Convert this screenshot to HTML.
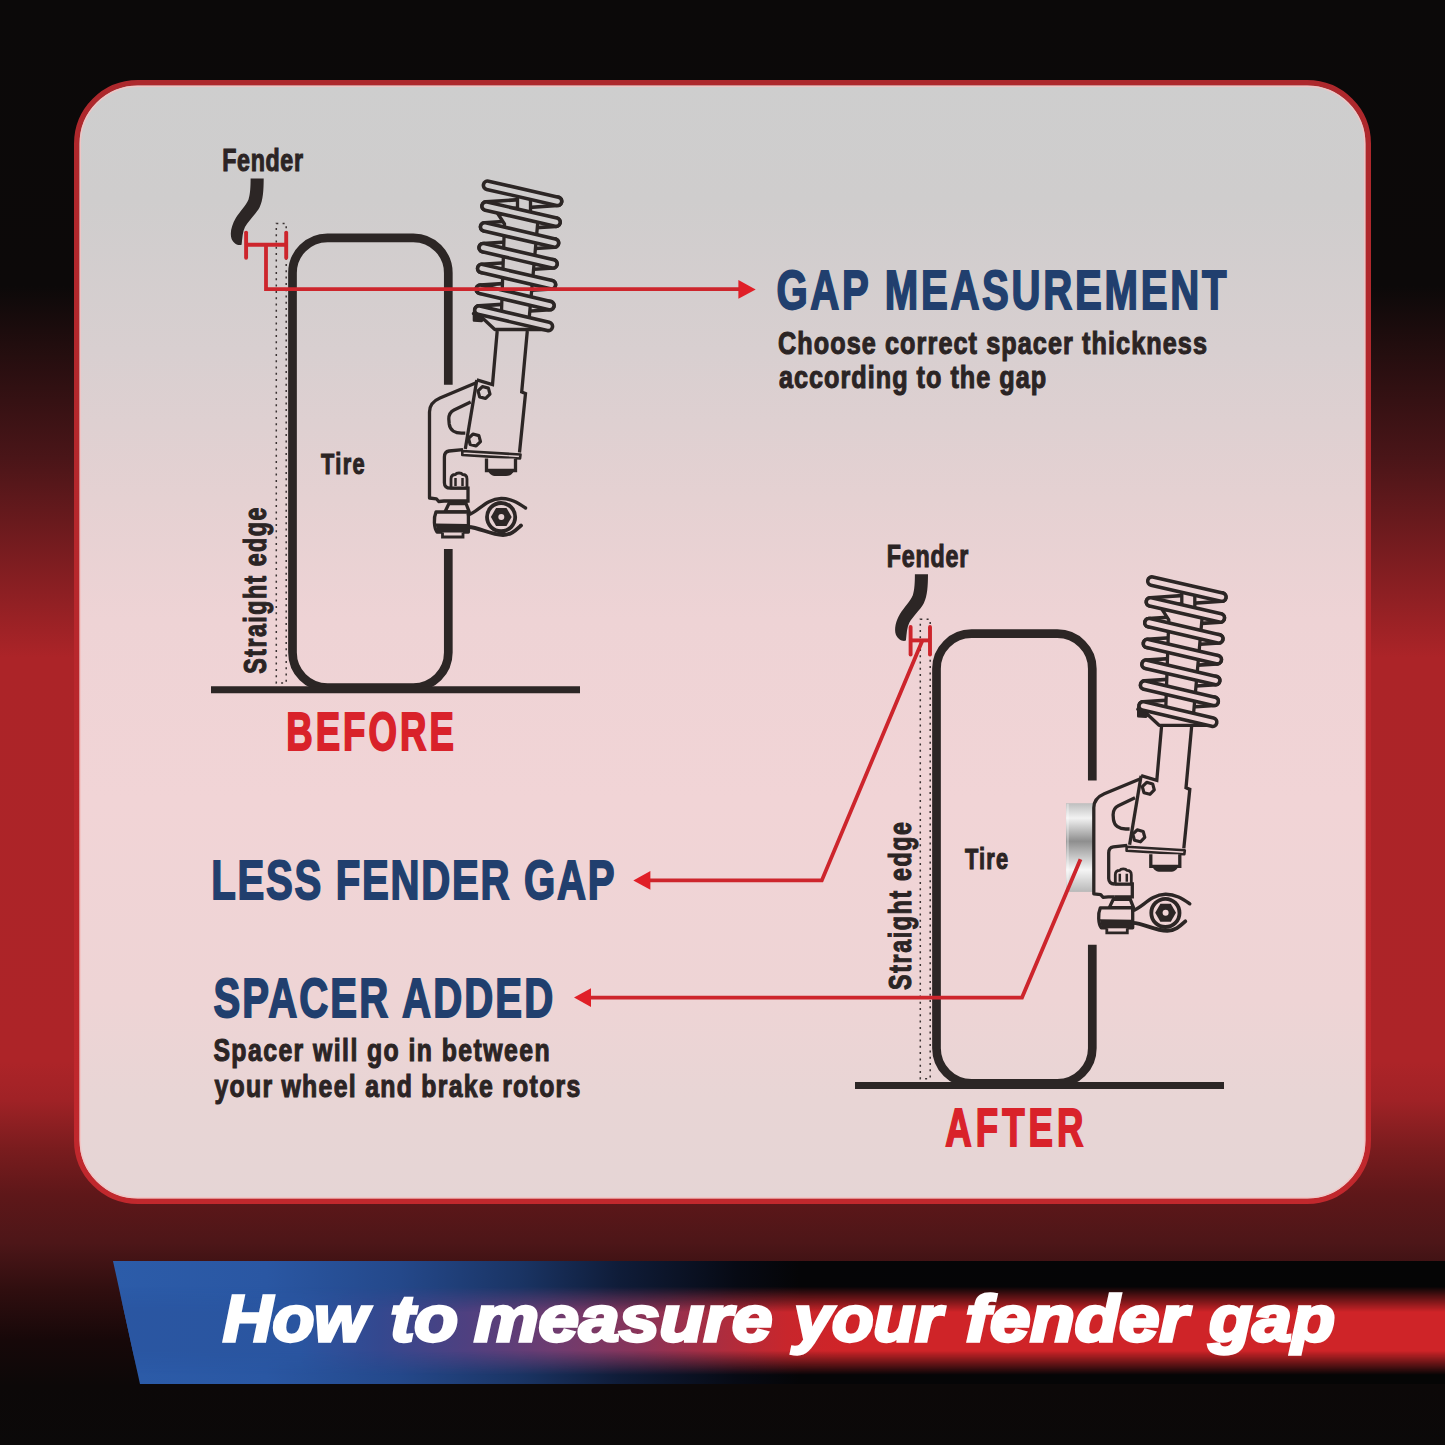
<!DOCTYPE html>
<html><head><meta charset="utf-8"><title>How to measure your fender gap</title>
<style>
html,body{margin:0;padding:0;width:1445px;height:1445px;overflow:hidden;background:#0b0909;}
svg{display:block}
text{font-family:"Liberation Sans",sans-serif;font-weight:bold}
</style></head>
<body>
<svg width="1445" height="1445" viewBox="0 0 1445 1445">
<defs>
  <linearGradient id="bg" x1="0" y1="0" x2="0" y2="1445" gradientUnits="userSpaceOnUse">
    <stop offset="0.0000" stop-color="#0b0909"/>
    <stop offset="0.1979" stop-color="#0c0909"/>
    <stop offset="0.3170" stop-color="#4a1518"/>
    <stop offset="0.4547" stop-color="#ac2428"/>
    <stop offset="0.7343" stop-color="#ad2428"/>
    <stop offset="0.7612" stop-color="#a02226"/>
    <stop offset="0.7945" stop-color="#7a1c1e"/>
    <stop offset="0.8270" stop-color="#5e1719"/>
    <stop offset="0.8602" stop-color="#4d1618"/>
    <stop offset="0.8934" stop-color="#2f0e0f"/>
    <stop offset="0.9266" stop-color="#170809"/>
    <stop offset="0.9592" stop-color="#0c0808"/>
    <stop offset="1.0000" stop-color="#0b0909"/>
  </linearGradient>
  <linearGradient id="panel" x1="0" y1="80" x2="0" y2="1204" gradientUnits="userSpaceOnUse">
    <stop offset="0.0000" stop-color="#cecece"/>
    <stop offset="0.1068" stop-color="#cfcdcd"/>
    <stop offset="0.2402" stop-color="#d8cfd0"/>
    <stop offset="0.3737" stop-color="#e5d1d2"/>
    <stop offset="0.4804" stop-color="#eed3d5"/>
    <stop offset="0.6406" stop-color="#f1d4d6"/>
    <stop offset="0.8185" stop-color="#eed4d5"/>
    <stop offset="0.9075" stop-color="#e8d5d5"/>
    <stop offset="1.0000" stop-color="#e5d5d5"/>
  </linearGradient>
  <linearGradient id="panelA" x1="0" y1="-315.8" x2="0" y2="808.2" gradientUnits="userSpaceOnUse">
    <stop offset="0.0000" stop-color="#cecece"/>
    <stop offset="0.1068" stop-color="#cfcdcd"/>
    <stop offset="0.2402" stop-color="#d8cfd0"/>
    <stop offset="0.3737" stop-color="#e5d1d2"/>
    <stop offset="0.4804" stop-color="#eed3d5"/>
    <stop offset="0.6406" stop-color="#f1d4d6"/>
    <stop offset="0.8185" stop-color="#eed4d5"/>
    <stop offset="0.9075" stop-color="#e8d5d5"/>
    <stop offset="1.0000" stop-color="#e5d5d5"/>
  </linearGradient>
  <linearGradient id="border" x1="0" y1="80" x2="0" y2="1204" gradientUnits="userSpaceOnUse">
    <stop offset="0" stop-color="#ad282c"/>
    <stop offset="0.5" stop-color="#b8272c"/>
    <stop offset="1" stop-color="#c1282d"/>
  </linearGradient>
  <linearGradient id="bannerBlue" x1="113" y1="0" x2="1445" y2="0" gradientUnits="userSpaceOnUse">
    <stop offset="0.0000" stop-color="#2c5ca9"/>
    <stop offset="0.1149" stop-color="#2a57a3"/>
    <stop offset="0.2155" stop-color="#24488a"/>
    <stop offset="0.3056" stop-color="#1a3464"/>
    <stop offset="0.3806" stop-color="#0f1c38"/>
    <stop offset="0.4685" stop-color="#070a14"/>
    <stop offset="0.5158" stop-color="#050507"/>
    <stop offset="1.0000" stop-color="#050505"/>
  </linearGradient>
  <linearGradient id="bandV" x1="0" y1="1261" x2="0" y2="1384" gradientUnits="userSpaceOnUse">
    <stop offset="0.0000" stop-color="#fff" stop-opacity="0"/>
    <stop offset="0.2073" stop-color="#fff" stop-opacity="0"/>
    <stop offset="0.3089" stop-color="#fff" stop-opacity="0.5"/>
    <stop offset="0.4146" stop-color="#fff" stop-opacity="1"/>
    <stop offset="0.7293" stop-color="#fff" stop-opacity="1"/>
    <stop offset="0.8293" stop-color="#fff" stop-opacity="0.5"/>
    <stop offset="0.9268" stop-color="#fff" stop-opacity="0"/>
    <stop offset="1.0000" stop-color="#fff" stop-opacity="0"/>
  </linearGradient>
  <linearGradient id="bandColor" x1="0" y1="0" x2="1445" y2="0" gradientUnits="userSpaceOnUse">
    <stop offset="0.0000" stop-color="#2a57a3"/>
    <stop offset="0.2076" stop-color="#2a55a0"/>
    <stop offset="0.2630" stop-color="#34488f"/>
    <stop offset="0.3232" stop-color="#4f4080"/>
    <stop offset="0.3834" stop-color="#6e3c70"/>
    <stop offset="0.4443" stop-color="#8a3458"/>
    <stop offset="0.5045" stop-color="#b02c3c"/>
    <stop offset="0.5446" stop-color="#c8262c"/>
    <stop offset="0.5813" stop-color="#cf2428"/>
    <stop offset="1.0000" stop-color="#cf2428"/>
  </linearGradient>
  <mask id="bandMask" maskUnits="userSpaceOnUse" x="0" y="1200" width="1445" height="245">
    <rect x="0" y="1200" width="1445" height="245" fill="url(#bandV)"/>
  </mask>
  <linearGradient id="spacerG" x1="0" y1="803" x2="0" y2="892" gradientUnits="userSpaceOnUse">
    <stop offset="0" stop-color="#bdbdbd"/>
    <stop offset="0.17" stop-color="#f2f2f2"/>
    <stop offset="0.43" stop-color="#8e8e8e"/>
    <stop offset="0.75" stop-color="#f5f5f5"/>
    <stop offset="1" stop-color="#b8b8b8"/>
  </linearGradient>
</defs>

<!-- background -->
<rect x="0" y="0" width="1445" height="1445" fill="url(#bg)"/>

<!-- panel -->
<rect x="76.75" y="82.75" width="1291.5" height="1118.5" rx="61" ry="61" fill="url(#panel)" stroke="url(#border)" stroke-width="5.5"/>
<rect x="80.3" y="86.3" width="1284.4" height="1111.4" rx="57.5" ry="57.5" fill="none" stroke="#f2c4c4" stroke-width="1.2"/>

<!-- tires / fenders -->
<path d="M448.3,384.7 L448.3,272.9 A35,35 0 0 0 413.3,237.9 L327.5,237.9 A35,35 0 0 0 292.5,272.9 L292.5,652.5 A35,35 0 0 0 327.5,687.5 L413.3,687.5 A35,35 0 0 0 448.3,652.5 L448.3,549" fill="none" stroke="#2c2625" stroke-width="8.7"/><rect x="276.3" y="223.5" width="9.9" height="459.5" fill="none" stroke="#3a3232" stroke-width="1.5" stroke-dasharray="2 4.3"/><line x1="211" y1="689.7" x2="580" y2="689.7" stroke="#2c2625" stroke-width="7"/>
<path d="M250.6,178.5 L263.7,178.5 C263.6,190 263.2,200 259.5,207.5 C256,214 248.5,220.5 245,227 C242.6,231.5 242.4,238 241.6,244.8 C238,246 233.5,243.5 231.6,239 C229.6,233 231.5,225.5 235.8,218 C240,211.5 246,205.5 248.5,199.5 C250.3,194 250.6,186 250.6,178.5 Z" fill="#2c2625"/>
<g transform="translate(644.0,395.8)"><path d="M448.3,384.7 L448.3,272.9 A35,35 0 0 0 413.3,237.9 L327.5,237.9 A35,35 0 0 0 292.5,272.9 L292.5,652.5 A35,35 0 0 0 327.5,687.5 L413.3,687.5 A35,35 0 0 0 448.3,652.5 L448.3,549" fill="none" stroke="#2c2625" stroke-width="8.7"/><rect x="276.3" y="223.5" width="9.9" height="459.5" fill="none" stroke="#3a3232" stroke-width="1.5" stroke-dasharray="2 4.3"/><line x1="211" y1="689.7" x2="580" y2="689.7" stroke="#2c2625" stroke-width="7"/></g>
<g transform="translate(664.3,395.8)"><path d="M250.6,178.5 L263.7,178.5 C263.6,190 263.2,200 259.5,207.5 C256,214 248.5,220.5 245,227 C242.6,231.5 242.4,238 241.6,244.8 C238,246 233.5,243.5 231.6,239 C229.6,233 231.5,225.5 235.8,218 C240,211.5 246,205.5 248.5,199.5 C250.3,194 250.6,186 250.6,178.5 Z" fill="#2c2625"/></g>
<rect x="1066" y="803.2" width="27.6" height="88.7" fill="url(#spacerG)"/>
<rect x="1066.6" y="803.8" width="2.2" height="87.5" fill="#ffffff" opacity="0.35"/>
<g stroke="#cd252c" fill="none" stroke-width="3.8"><path d="M922.4,640.4 L821.8,880.4 L650,880.4"/><path d="M1080.5,859.2 L1022,997.6 L591,997.6"/></g>
<g stroke="#cd252c" stroke-width="3.9" stroke-linecap="round"><line x1="246.1" y1="232.6" x2="246.1" y2="257.8"/><line x1="286.2" y1="232.6" x2="286.2" y2="257.8"/><line x1="246.1" y1="244.7" x2="286.2" y2="244.7" stroke-linecap="butt"/><line x1="910.6" y1="627" x2="910.6" y2="654.5"/><line x1="930" y1="627" x2="930" y2="654.5"/><line x1="910.6" y1="640.4" x2="930" y2="640.4" stroke-linecap="butt"/></g>
<g fill="#e01f27"><polygon points="738.4,280 755.7,289.4 738.4,298.8"/><polygon points="650.4,871.1 633.3,880.4 650.4,889.7"/><polygon points="591,988.3 574,997.6 591,1006.9"/></g>
<!-- struts -->
<line x1="557.50" y1="201.30" x2="486.15" y2="206.10" stroke="#2c2625" stroke-width="12.00" stroke-linecap="round"/><line x1="557.50" y1="201.30" x2="486.15" y2="206.10" stroke="url(#panel)" stroke-width="4.80" stroke-linecap="round"/>
<line x1="555.97" y1="222.15" x2="484.70" y2="226.90" stroke="#2c2625" stroke-width="12.00" stroke-linecap="round"/><line x1="555.97" y1="222.15" x2="484.70" y2="226.90" stroke="url(#panel)" stroke-width="4.80" stroke-linecap="round"/>
<line x1="554.44" y1="243.00" x2="483.25" y2="247.70" stroke="#2c2625" stroke-width="12.00" stroke-linecap="round"/><line x1="554.44" y1="243.00" x2="483.25" y2="247.70" stroke="url(#panel)" stroke-width="4.80" stroke-linecap="round"/>
<line x1="552.91" y1="263.85" x2="481.80" y2="268.50" stroke="#2c2625" stroke-width="12.00" stroke-linecap="round"/><line x1="552.91" y1="263.85" x2="481.80" y2="268.50" stroke="url(#panel)" stroke-width="4.80" stroke-linecap="round"/>
<line x1="551.38" y1="284.70" x2="480.35" y2="289.30" stroke="#2c2625" stroke-width="12.00" stroke-linecap="round"/><line x1="551.38" y1="284.70" x2="480.35" y2="289.30" stroke="url(#panel)" stroke-width="4.80" stroke-linecap="round"/>
<line x1="549.85" y1="305.55" x2="478.90" y2="310.10" stroke="#2c2625" stroke-width="12.00" stroke-linecap="round"/><line x1="549.85" y1="305.55" x2="478.90" y2="310.10" stroke="url(#panel)" stroke-width="4.80" stroke-linecap="round"/>
<polygon points="517.5,196 530.5,196 530.5,216 517.5,216" fill="url(#panel)" stroke="#2c2625" stroke-width="3.3"/>
<polygon points="498,214 538.5,214 528.5,326 501,326 504.5,224" fill="url(#panel)" stroke="#2c2625" stroke-width="3.3" stroke-linejoin="round"/>
<polygon points="473.5,313.5 483,318.5 494.8,329.5 549,329.5 552,325 478,306" fill="url(#panel)" stroke="#2c2625" stroke-width="3.3" stroke-linejoin="round"/>
<path d="M474,313.5 L474,320.5 L481.5,321 L484.5,318.5" fill="#2c2625" stroke="#2c2625" stroke-width="2.6" stroke-linejoin="round"/>
<line x1="487.60" y1="185.30" x2="557.50" y2="201.30" stroke="#2c2625" stroke-width="12.00" stroke-linecap="round"/><line x1="487.60" y1="185.30" x2="557.50" y2="201.30" stroke="url(#panel)" stroke-width="4.80" stroke-linecap="round"/>
<line x1="486.15" y1="206.10" x2="555.97" y2="222.15" stroke="#2c2625" stroke-width="12.00" stroke-linecap="round"/><line x1="486.15" y1="206.10" x2="555.97" y2="222.15" stroke="url(#panel)" stroke-width="4.80" stroke-linecap="round"/>
<line x1="484.70" y1="226.90" x2="554.44" y2="243.00" stroke="#2c2625" stroke-width="12.00" stroke-linecap="round"/><line x1="484.70" y1="226.90" x2="554.44" y2="243.00" stroke="url(#panel)" stroke-width="4.80" stroke-linecap="round"/>
<line x1="483.25" y1="247.70" x2="552.91" y2="263.85" stroke="#2c2625" stroke-width="12.00" stroke-linecap="round"/><line x1="483.25" y1="247.70" x2="552.91" y2="263.85" stroke="url(#panel)" stroke-width="4.80" stroke-linecap="round"/>
<line x1="481.80" y1="268.50" x2="551.38" y2="284.70" stroke="#2c2625" stroke-width="12.00" stroke-linecap="round"/><line x1="481.80" y1="268.50" x2="551.38" y2="284.70" stroke="url(#panel)" stroke-width="4.80" stroke-linecap="round"/>
<line x1="480.35" y1="289.30" x2="549.85" y2="305.55" stroke="#2c2625" stroke-width="12.00" stroke-linecap="round"/><line x1="480.35" y1="289.30" x2="549.85" y2="305.55" stroke="url(#panel)" stroke-width="4.80" stroke-linecap="round"/>
<line x1="478.90" y1="310.10" x2="548.32" y2="326.40" stroke="#2c2625" stroke-width="12.00" stroke-linecap="round"/><line x1="478.90" y1="310.10" x2="548.32" y2="326.40" stroke="url(#panel)" stroke-width="4.80" stroke-linecap="round"/>
<path d="M497.2,331 L492.5,384.5 L476.8,379.9 M527.3,331 L521.7,392 L525.5,393.6 L519.5,452.5" fill="none" stroke="#2c2625" stroke-width="3.3" stroke-linejoin="miter"/>
<path d="M476.8,382.6 L440,398 C433,401 429.5,405 429.5,412 L429.5,498 L436.4,498.8 L438.7,501.5 L444,501 L467.6,501" fill="none" stroke="#2c2625" stroke-width="3.3" stroke-linejoin="round"/>
<path d="M476.8,379.9 L465.3,449" fill="none" stroke="#2c2625" stroke-width="3.3"/>
<path d="M470.7,402 L454,410 C450,412 448.8,415 448.8,419 L449.2,424 C450,430 455,433.2 461.5,433.2 L465.3,433.2" fill="none" stroke="#2c2625" stroke-width="3.3"/>
<path d="M463,449.6 L449,451 C446,451.5 444.4,453.5 444.4,457 L444.4,482.8 C444.4,486 446.5,488.2 450.1,488.2 L467.6,488.2" fill="none" stroke="#2c2625" stroke-width="3.3"/>
<path d="M462.3,451 L520.5,454.5 L520,458.5 L462.3,455 Z" fill="url(#panel)" stroke="#2c2625" stroke-width="2.6" stroke-linejoin="round"/>
<path d="M486.5,458.5 L486.5,470.5 L515.5,470.5 L515.5,458.5" fill="url(#panel)" stroke="#2c2625" stroke-width="3.3"/>
<path d="M488,470 L514,470 C513,474 510,476 506,476 L496,476 C492,476 489,474 488,470 Z" fill="#2c2625"/>
<polygon points="489.99,394.10 485.60,398.49 479.62,396.88 478.01,390.90 482.40,386.51 488.38,388.12" fill="url(#panel)" stroke="#2c2625" stroke-width="3.2" stroke-linejoin="round"/>
<polygon points="480.49,441.60 476.10,445.99 470.12,444.38 468.51,438.40 472.90,434.01 478.88,435.62" fill="url(#panel)" stroke="#2c2625" stroke-width="3.2" stroke-linejoin="round"/>
<path d="M450,488.2 L468,488.2 L468,501 L450,501" fill="url(#panel)" stroke="#2c2625" stroke-width="3.3"/>
<path d="M451,488 L451,479 C451,476 453,474.5 455.5,474.5 C456.5,472.5 461.5,472.5 462.5,474.5 C465,474.5 467,476 467,479 L467,488 Z" fill="url(#panel)" stroke="#2c2625" stroke-width="2.8" stroke-linejoin="round"/>
<path d="M455.5,478 L455.5,486 M462.5,478 L462.5,486" stroke="#2c2625" stroke-width="2.5"/>
<path d="M445,511.8 L449,503.5 L466,503.5 L469.2,511.8 Z" fill="url(#panel)" stroke="#2c2625" stroke-width="3.3" stroke-linejoin="round"/>
<path d="M436,512 L468.4,512 L468.4,532 L437,532 C434,528 433.4,518 436,512 Z" fill="url(#panel)" stroke="#2c2625" stroke-width="3.3" stroke-linejoin="round"/>
<path d="M435.5,523.5 L468.4,524 L468.4,532 L437.5,532 Z" fill="#2c2625"/>
<path d="M442.5,532.5 L442.5,537 L463,537 L463,532.5" fill="url(#panel)" stroke="#2c2625" stroke-width="2.8"/>
<path d="M468.4,514.8 C478,512 486,499 501.1,498.5 C511,498.3 518,503 525.5,508" fill="none" stroke="#2c2625" stroke-width="3.4" stroke-linecap="round"/>
<path d="M468.4,527 C480,527.5 490,535 503,535 C511,535 516,530 521,525.5" fill="none" stroke="#2c2625" stroke-width="3.8" stroke-linecap="round"/>
<circle cx="501.1" cy="517.1" r="14.1" fill="url(#panel)" stroke="#2c2625" stroke-width="3.8"/>
<polygon points="511.70,516.90 506.50,525.91 496.10,525.91 490.90,516.90 496.10,507.89 506.50,507.89" fill="#2c2625"/>
<circle cx="501.3" cy="516.9" r="3" fill="url(#panel)"/>
<g transform="translate(664.3,395.8)"><line x1="557.50" y1="201.30" x2="486.15" y2="206.10" stroke="#2c2625" stroke-width="12.00" stroke-linecap="round"/><line x1="557.50" y1="201.30" x2="486.15" y2="206.10" stroke="url(#panelA)" stroke-width="4.80" stroke-linecap="round"/>
<line x1="555.97" y1="222.15" x2="484.70" y2="226.90" stroke="#2c2625" stroke-width="12.00" stroke-linecap="round"/><line x1="555.97" y1="222.15" x2="484.70" y2="226.90" stroke="url(#panelA)" stroke-width="4.80" stroke-linecap="round"/>
<line x1="554.44" y1="243.00" x2="483.25" y2="247.70" stroke="#2c2625" stroke-width="12.00" stroke-linecap="round"/><line x1="554.44" y1="243.00" x2="483.25" y2="247.70" stroke="url(#panelA)" stroke-width="4.80" stroke-linecap="round"/>
<line x1="552.91" y1="263.85" x2="481.80" y2="268.50" stroke="#2c2625" stroke-width="12.00" stroke-linecap="round"/><line x1="552.91" y1="263.85" x2="481.80" y2="268.50" stroke="url(#panelA)" stroke-width="4.80" stroke-linecap="round"/>
<line x1="551.38" y1="284.70" x2="480.35" y2="289.30" stroke="#2c2625" stroke-width="12.00" stroke-linecap="round"/><line x1="551.38" y1="284.70" x2="480.35" y2="289.30" stroke="url(#panelA)" stroke-width="4.80" stroke-linecap="round"/>
<line x1="549.85" y1="305.55" x2="478.90" y2="310.10" stroke="#2c2625" stroke-width="12.00" stroke-linecap="round"/><line x1="549.85" y1="305.55" x2="478.90" y2="310.10" stroke="url(#panelA)" stroke-width="4.80" stroke-linecap="round"/>
<polygon points="517.5,196 530.5,196 530.5,216 517.5,216" fill="url(#panelA)" stroke="#2c2625" stroke-width="3.3"/>
<polygon points="498,214 538.5,214 528.5,326 501,326 504.5,224" fill="url(#panelA)" stroke="#2c2625" stroke-width="3.3" stroke-linejoin="round"/>
<polygon points="473.5,313.5 483,318.5 494.8,329.5 549,329.5 552,325 478,306" fill="url(#panelA)" stroke="#2c2625" stroke-width="3.3" stroke-linejoin="round"/>
<path d="M474,313.5 L474,320.5 L481.5,321 L484.5,318.5" fill="#2c2625" stroke="#2c2625" stroke-width="2.6" stroke-linejoin="round"/>
<line x1="487.60" y1="185.30" x2="557.50" y2="201.30" stroke="#2c2625" stroke-width="12.00" stroke-linecap="round"/><line x1="487.60" y1="185.30" x2="557.50" y2="201.30" stroke="url(#panelA)" stroke-width="4.80" stroke-linecap="round"/>
<line x1="486.15" y1="206.10" x2="555.97" y2="222.15" stroke="#2c2625" stroke-width="12.00" stroke-linecap="round"/><line x1="486.15" y1="206.10" x2="555.97" y2="222.15" stroke="url(#panelA)" stroke-width="4.80" stroke-linecap="round"/>
<line x1="484.70" y1="226.90" x2="554.44" y2="243.00" stroke="#2c2625" stroke-width="12.00" stroke-linecap="round"/><line x1="484.70" y1="226.90" x2="554.44" y2="243.00" stroke="url(#panelA)" stroke-width="4.80" stroke-linecap="round"/>
<line x1="483.25" y1="247.70" x2="552.91" y2="263.85" stroke="#2c2625" stroke-width="12.00" stroke-linecap="round"/><line x1="483.25" y1="247.70" x2="552.91" y2="263.85" stroke="url(#panelA)" stroke-width="4.80" stroke-linecap="round"/>
<line x1="481.80" y1="268.50" x2="551.38" y2="284.70" stroke="#2c2625" stroke-width="12.00" stroke-linecap="round"/><line x1="481.80" y1="268.50" x2="551.38" y2="284.70" stroke="url(#panelA)" stroke-width="4.80" stroke-linecap="round"/>
<line x1="480.35" y1="289.30" x2="549.85" y2="305.55" stroke="#2c2625" stroke-width="12.00" stroke-linecap="round"/><line x1="480.35" y1="289.30" x2="549.85" y2="305.55" stroke="url(#panelA)" stroke-width="4.80" stroke-linecap="round"/>
<line x1="478.90" y1="310.10" x2="548.32" y2="326.40" stroke="#2c2625" stroke-width="12.00" stroke-linecap="round"/><line x1="478.90" y1="310.10" x2="548.32" y2="326.40" stroke="url(#panelA)" stroke-width="4.80" stroke-linecap="round"/>
<path d="M497.2,331 L492.5,384.5 L476.8,379.9 M527.3,331 L521.7,392 L525.5,393.6 L519.5,452.5" fill="none" stroke="#2c2625" stroke-width="3.3" stroke-linejoin="miter"/>
<path d="M476.8,382.6 L440,398 C433,401 429.5,405 429.5,412 L429.5,498 L436.4,498.8 L438.7,501.5 L444,501 L467.6,501" fill="none" stroke="#2c2625" stroke-width="3.3" stroke-linejoin="round"/>
<path d="M476.8,379.9 L465.3,449" fill="none" stroke="#2c2625" stroke-width="3.3"/>
<path d="M470.7,402 L454,410 C450,412 448.8,415 448.8,419 L449.2,424 C450,430 455,433.2 461.5,433.2 L465.3,433.2" fill="none" stroke="#2c2625" stroke-width="3.3"/>
<path d="M463,449.6 L449,451 C446,451.5 444.4,453.5 444.4,457 L444.4,482.8 C444.4,486 446.5,488.2 450.1,488.2 L467.6,488.2" fill="none" stroke="#2c2625" stroke-width="3.3"/>
<path d="M462.3,451 L520.5,454.5 L520,458.5 L462.3,455 Z" fill="url(#panelA)" stroke="#2c2625" stroke-width="2.6" stroke-linejoin="round"/>
<path d="M486.5,458.5 L486.5,470.5 L515.5,470.5 L515.5,458.5" fill="url(#panelA)" stroke="#2c2625" stroke-width="3.3"/>
<path d="M488,470 L514,470 C513,474 510,476 506,476 L496,476 C492,476 489,474 488,470 Z" fill="#2c2625"/>
<polygon points="489.99,394.10 485.60,398.49 479.62,396.88 478.01,390.90 482.40,386.51 488.38,388.12" fill="url(#panelA)" stroke="#2c2625" stroke-width="3.2" stroke-linejoin="round"/>
<polygon points="480.49,441.60 476.10,445.99 470.12,444.38 468.51,438.40 472.90,434.01 478.88,435.62" fill="url(#panelA)" stroke="#2c2625" stroke-width="3.2" stroke-linejoin="round"/>
<path d="M450,488.2 L468,488.2 L468,501 L450,501" fill="url(#panelA)" stroke="#2c2625" stroke-width="3.3"/>
<path d="M451,488 L451,479 C451,476 453,474.5 455.5,474.5 C456.5,472.5 461.5,472.5 462.5,474.5 C465,474.5 467,476 467,479 L467,488 Z" fill="url(#panelA)" stroke="#2c2625" stroke-width="2.8" stroke-linejoin="round"/>
<path d="M455.5,478 L455.5,486 M462.5,478 L462.5,486" stroke="#2c2625" stroke-width="2.5"/>
<path d="M445,511.8 L449,503.5 L466,503.5 L469.2,511.8 Z" fill="url(#panelA)" stroke="#2c2625" stroke-width="3.3" stroke-linejoin="round"/>
<path d="M436,512 L468.4,512 L468.4,532 L437,532 C434,528 433.4,518 436,512 Z" fill="url(#panelA)" stroke="#2c2625" stroke-width="3.3" stroke-linejoin="round"/>
<path d="M435.5,523.5 L468.4,524 L468.4,532 L437.5,532 Z" fill="#2c2625"/>
<path d="M442.5,532.5 L442.5,537 L463,537 L463,532.5" fill="url(#panelA)" stroke="#2c2625" stroke-width="2.8"/>
<path d="M468.4,514.8 C478,512 486,499 501.1,498.5 C511,498.3 518,503 525.5,508" fill="none" stroke="#2c2625" stroke-width="3.4" stroke-linecap="round"/>
<path d="M468.4,527 C480,527.5 490,535 503,535 C511,535 516,530 521,525.5" fill="none" stroke="#2c2625" stroke-width="3.8" stroke-linecap="round"/>
<circle cx="501.1" cy="517.1" r="14.1" fill="url(#panelA)" stroke="#2c2625" stroke-width="3.8"/>
<polygon points="511.70,516.90 506.50,525.91 496.10,525.91 490.90,516.90 496.10,507.89 506.50,507.89" fill="#2c2625"/>
<circle cx="501.3" cy="516.9" r="3" fill="url(#panelA)"/></g>
<path d="M266,244.7 L266,289.2 L739,289.2" stroke="#cd252c" fill="none" stroke-width="3.8"/>
<text transform="translate(222.20,171.4) scale(0.75,1)" x="0" y="0" font-size="31" fill="#2b2424" stroke="#2b2424" stroke-width="1.1" textLength="107.70" lengthAdjust="spacing">Fender</text>
<text transform="translate(886.80,567.0) scale(0.75,1)" x="0" y="0" font-size="31" fill="#2b2424" stroke="#2b2424" stroke-width="1.1" textLength="108.77" lengthAdjust="spacing">Fender</text>
<text transform="translate(321.00,473.7) scale(0.75,1)" x="0" y="0" font-size="29" fill="#2b2424" stroke="#2b2424" stroke-width="1.1" textLength="58.16" lengthAdjust="spacing">Tire</text>
<text transform="translate(965.00,869.4) scale(0.75,1)" x="0" y="0" font-size="29" fill="#2b2424" stroke="#2b2424" stroke-width="1.1" textLength="57.36" lengthAdjust="spacing">Tire</text>
<text transform="translate(286.20,750.2) scale(0.69,1)" x="0" y="0" font-size="53" fill="#d9222a" stroke="#d9222a" stroke-width="1.9" textLength="243.01" lengthAdjust="spacing">BEFORE</text>
<text transform="translate(945.20,1146) scale(0.69,1)" x="0" y="0" font-size="53" fill="#d9222a" stroke="#d9222a" stroke-width="1.9" textLength="200.48" lengthAdjust="spacing">AFTER</text>
<text transform="translate(776.40,309.4) scale(0.73,1)" x="0" y="0" font-size="55" fill="#213f6e" stroke="#213f6e" stroke-width="1.8" textLength="616.47" lengthAdjust="spacing">GAP MEASUREMENT</text>
<text transform="translate(778.00,353.9) scale(0.8,1)" x="0" y="0" font-size="31.5" fill="#2b2424" stroke="#2b2424" stroke-width="1.1" textLength="536.23" lengthAdjust="spacing">Choose correct spacer thickness</text>
<text transform="translate(779.00,387.9) scale(0.8,1)" x="0" y="0" font-size="31.5" fill="#2b2424" stroke="#2b2424" stroke-width="1.1" textLength="333.98" lengthAdjust="spacing">according to the gap</text>
<text transform="translate(211.20,898.9) scale(0.73,1)" x="0" y="0" font-size="55" fill="#213f6e" stroke="#213f6e" stroke-width="1.8" textLength="552.39" lengthAdjust="spacing">LESS FENDER GAP</text>
<text transform="translate(213.40,1016.6) scale(0.73,1)" x="0" y="0" font-size="55" fill="#213f6e" stroke="#213f6e" stroke-width="1.8" textLength="465.48" lengthAdjust="spacing">SPACER ADDED</text>
<text transform="translate(213.40,1061.2) scale(0.8,1)" x="0" y="0" font-size="31" fill="#2b2424" stroke="#2b2424" stroke-width="1.1" textLength="420.24" lengthAdjust="spacing">Spacer will go in between</text>
<text transform="translate(214.40,1097.1) scale(0.8,1)" x="0" y="0" font-size="31" fill="#2b2424" stroke="#2b2424" stroke-width="1.1" textLength="457.43" lengthAdjust="spacing">your wheel and brake rotors</text>
<text transform="translate(265.6,673.80) rotate(-90) scale(0.75,1)" x="0" y="0" font-size="31" fill="#2b2424" stroke="#2b2424" stroke-width="1.1" textLength="221.60" lengthAdjust="spacing">Straight edge</text>
<text transform="translate(910.6,990.00) rotate(-90) scale(0.75,1)" x="0" y="0" font-size="31" fill="#2b2424" stroke="#2b2424" stroke-width="1.1" textLength="224.00" lengthAdjust="spacing">Straight edge</text>

<!-- banner -->
<polygon points="113,1261 1445,1261 1445,1384 140,1384" fill="url(#bannerBlue)"/>
<polygon points="113,1261 1445,1261 1445,1384 140,1384" fill="url(#bandColor)" mask="url(#bandMask)"/>
<text x="223.00" y="1340.5" font-size="65.5" font-style="italic" fill="#fff" stroke="#fff" stroke-width="3.4" stroke-linejoin="miter" textLength="144.53" lengthAdjust="spacingAndGlyphs">How</text>
<text x="390.40" y="1340.5" font-size="65.5" font-style="italic" fill="#fff" stroke="#fff" stroke-width="3.4" stroke-linejoin="miter" textLength="67.53" lengthAdjust="spacingAndGlyphs">to</text>
<text x="474.20" y="1340.5" font-size="65.5" font-style="italic" fill="#fff" stroke="#fff" stroke-width="3.4" stroke-linejoin="miter" textLength="298.12" lengthAdjust="spacingAndGlyphs">measure</text>
<text x="794.15" y="1340.5" font-size="65.5" font-style="italic" fill="#fff" stroke="#fff" stroke-width="3.4" stroke-linejoin="miter" textLength="147.51" lengthAdjust="spacingAndGlyphs">your</text>
<text x="965.80" y="1340.5" font-size="65.5" font-style="italic" fill="#fff" stroke="#fff" stroke-width="3.4" stroke-linejoin="miter" textLength="221.93" lengthAdjust="spacingAndGlyphs">fender</text>
<text x="1209.13" y="1340.5" font-size="65.5" font-style="italic" fill="#fff" stroke="#fff" stroke-width="3.4" stroke-linejoin="miter" textLength="125.73" lengthAdjust="spacingAndGlyphs">gap</text>

</svg>
</body></html>
